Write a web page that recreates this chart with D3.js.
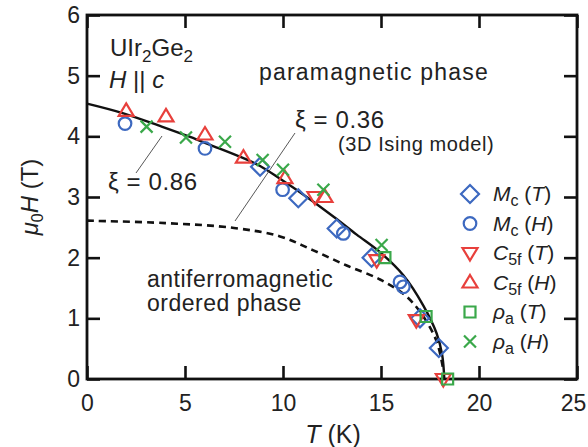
<!DOCTYPE html>
<html>
<head>
<meta charset="utf-8">
<script src="https://cdn.jsdelivr.net/npm/d3@7"></script>
<style>
  body { margin: 0; background: #fff; }
  text { font-family: "Liberation Sans", Arial, sans-serif; fill: #222; }
</style>
</head>
<body>
<svg id="chart" width="588" height="447"></svg>
<script>
// Axis ticks
const xTicks = [0, 5, 10, 15, 20, 25];
const yTicks = [0, 1, 2, 3, 4, 5, 6];

// Measured points: [T (K), mu0H (T)]
const mcT   = [[8.83, 3.50], [10.78, 2.98], [12.74, 2.48], [14.52, 2.00], [16.99, 1.00], [17.95, 0.51]];
const mcH   = [[1.94, 4.21], [6.02, 3.80], [9.98, 3.12], [13.08, 2.40], [15.97, 1.60], [16.14, 1.52]];
const c5fT  = [[11.63, 3.00], [14.78, 1.96], [16.80, 0.97], [18.18, 0.00]];
const c5fH  = [[2.00, 4.42], [4.03, 4.33], [6.02, 4.03], [7.98, 3.65], [10.10, 3.31], [12.14, 3.00]];
const rhoT  = [[15.20, 2.00], [17.30, 1.03], [18.40, 0.00]];
const rhoH  = [[3.04, 4.16], [5.05, 3.98], [7.04, 3.91], [8.96, 3.61], [10.00, 3.45], [12.06, 3.12], [15.03, 2.21]];

// Phase boundary fits (xi = 0.86 solid, xi = 0.36 dashed)
const fitSolid  = [[0, 4.54], [1.86, 4.38], [3.81, 4.16], [5.26, 3.99], [6.28, 3.86], [7.98, 3.64], [8.83, 3.51],
                   [9.85, 3.30], [11.3, 2.98], [12.6, 2.67], [13.76, 2.38], [14.95, 2.09], [16.14, 1.71],
                   [17.16, 1.21], [17.84, 0.75], [18.12, 0.40], [18.23, 0.00]];
const fitDashed = [[0, 2.61], [4.0, 2.57], [7.5, 2.49], [9.85, 2.35], [11.55, 2.12], [13.25, 1.87],
                   [14.95, 1.64], [16.3, 1.36], [17.16, 1.03], [17.84, 0.62], [18.15, 0.20]];

const blue = "#3d69c0", red = "#e8403c", green = "#3aa84a";

const series = [
  { main: "M",  sub: "c",  arg: "T", color: blue,  shape: "diamond", data: mcT },
  { main: "M",  sub: "c",  arg: "H", color: blue,  shape: "circle",  data: mcH },
  { main: "C",  sub: "5f", arg: "T", color: red,   shape: "tridown", data: c5fT },
  { main: "C",  sub: "5f", arg: "H", color: red,   shape: "triup",   data: c5fH },
  { main: "ρ",  sub: "a",  arg: "T", color: green, shape: "square",  data: rhoT },
  { main: "ρ",  sub: "a",  arg: "H", color: green, shape: "cross",   data: rhoH }
];

const margin = { left: 87, right: 11, top: 15, bottom: 68 };
const W = 588, H = 447;
const svg = d3.select("#chart");

const x = d3.scaleLinear().domain([0, 25]).range([margin.left, W - margin.right]);
const y = d3.scaleLinear().domain([0, 6]).range([H - margin.bottom, margin.top]);

function markerPath(shape) {
  switch (shape) {
    case "diamond": return "M0,-9L9,0L0,9L-9,0Z";
    case "circle":  return "M6.3,0A6.3,6.3 0 1,1 -6.3,0A6.3,6.3 0 1,1 6.3,0Z";
    case "triup":   return "M0,-7.5L7.5,5L-7.5,5Z";
    case "tridown": return "M0,7.5L7.5,-5L-7.5,-5Z";
    case "square":  return "M-5.5,-5.5H5.5V5.5H-5.5Z";
    case "cross":   return "M-6,-6L6,6M6,-6L-6,6";
  }
}

// Axes with inward ticks on all four sides
const tickLen = 13;
const axisFont = "23px";
const gx = svg.append("g").attr("transform", `translate(0,${y(0)})`)
  .call(d3.axisBottom(x).tickValues(xTicks).tickSizeInner(-tickLen).tickSizeOuter(0).tickPadding(16).tickFormat(d3.format("d")));
const gxTop = svg.append("g").attr("transform", `translate(0,${y(6)})`)
  .call(d3.axisTop(x).tickValues(xTicks).tickSizeInner(-tickLen).tickSizeOuter(0).tickFormat(""));
const gy = svg.append("g").attr("transform", `translate(${x(0)},0)`)
  .call(d3.axisLeft(y).tickValues(yTicks).tickSizeInner(-tickLen).tickSizeOuter(0).tickPadding(7).tickFormat(d3.format("d")));
const gyRight = svg.append("g").attr("transform", `translate(${x(25)},0)`)
  .call(d3.axisRight(y).tickValues(yTicks).tickSizeInner(-tickLen).tickSizeOuter(0).tickFormat(""));

[gx, gxTop, gy, gyRight].forEach(g => {
  g.select(".domain").remove();
  g.selectAll(".tick line").attr("stroke", "#111").attr("stroke-width", 2.6);
  g.selectAll(".tick text").style("font-size", axisFont).style("font-family", "'Liberation Sans', Arial, sans-serif").attr("fill", "#222");
});
// keep the last x label inside the page edge
gx.selectAll(".tick text").filter(d => d === 25).attr("dx", -4);

// Frame
svg.append("rect")
  .attr("x", x(0)).attr("y", y(6))
  .attr("width", x(25) - x(0)).attr("height", y(0) - y(6))
  .attr("fill", "none").attr("stroke", "#111").attr("stroke-width", 2.8);

// Axis titles
const xl = svg.append("text").attr("x", 333).attr("y", 443).attr("text-anchor", "middle").style("font-size", "25px");
xl.append("tspan").style("font-style", "italic").text("T");
xl.append("tspan").text(" (K)");

const yl = svg.append("text").attr("transform", "translate(38,197) rotate(-90)").attr("text-anchor", "middle").style("font-size", "24px");
yl.append("tspan").style("font-style", "italic").text("μ");
yl.append("tspan").attr("dy", 5).style("font-size", "16px").text("0");
yl.append("tspan").attr("dy", -5).style("font-style", "italic").text("H");
yl.append("tspan").text(" (T)");

// Fit curves
const line = d3.line().x(d => x(d[0])).y(d => y(d[1])).curve(d3.curveCatmullRom.alpha(0.5));
svg.append("path").attr("d", line(fitDashed)).attr("fill", "none")
  .attr("stroke", "#111").attr("stroke-width", 2.6).attr("stroke-dasharray", "7,5");
svg.append("path").attr("d", line(fitSolid)).attr("fill", "none")
  .attr("stroke", "#111").attr("stroke-width", 2.4);

// Data markers
series.forEach(s => {
  svg.append("g").selectAll("path").data(s.data).join("path")
    .attr("transform", d => `translate(${x(d[0])},${y(d[1])})`)
    .attr("d", markerPath(s.shape))
    .attr("fill", "none").attr("stroke", s.color).attr("stroke-width", 2.2);
});

// Annotations
const ann = (tx, ty, size, str, ls) => svg.append("text").attr("x", tx).attr("y", ty)
  .style("font-size", size).style("letter-spacing", ls || "0px").text(str);

const t1 = svg.append("text").attr("x", 110).attr("y", 56).style("font-size", "24px");
t1.append("tspan").text("UIr");
t1.append("tspan").attr("dy", 6).style("font-size", "17px").text("2");
t1.append("tspan").attr("dy", -6).text("Ge");
t1.append("tspan").attr("dy", 6).style("font-size", "17px").text("2");
const t2 = svg.append("text").attr("x", 109).attr("y", 88).style("font-size", "24px");
t2.append("tspan").style("font-style", "italic").text("H");
t2.append("tspan").text(" || ");
t2.append("tspan").style("font-style", "italic").text("c");

ann(259, 80, "23px", "paramagnetic phase", "1.2px");
ann(295, 128, "24px", "ξ = 0.36", "0.6px");
ann(338, 151, "20px", "(3D Ising model)", "0.6px");
ann(108, 190, "24px", "ξ = 0.86", "0.6px");
ann(147, 287, "23px", "antiferromagnetic", "0.5px");
ann(147, 311, "23px", "ordered phase", "0.5px");

// Leader lines
svg.append("line").attr("x1", 136).attr("y1", 173).attr("x2", 162).attr("y2", 136)
  .attr("stroke", "#444").attr("stroke-width", 0.9);
svg.append("line").attr("x1", 295).attr("y1", 133).attr("x2", 235).attr("y2", 221)
  .attr("stroke", "#444").attr("stroke-width", 0.9);

// Legend
const lg = svg.append("g");
series.forEach((s, i) => {
  const ly = 194 + i * 29.5;
  lg.append("path").attr("transform", `translate(470,${ly})`).attr("d", markerPath(s.shape))
    .attr("fill", "none").attr("stroke", s.color).attr("stroke-width", 2.2);
  const t = lg.append("text").attr("x", 493).attr("y", ly + 7).style("font-size", "21px");
  t.append("tspan").style("font-style", "italic").text(s.main);
  t.append("tspan").attr("dy", 5).style("font-size", "16px").text(s.sub);
  t.append("tspan").attr("dy", -5).text(" (");
  t.append("tspan").style("font-style", "italic").text(s.arg);
  t.append("tspan").text(")");
});
</script>
</body>
</html>
